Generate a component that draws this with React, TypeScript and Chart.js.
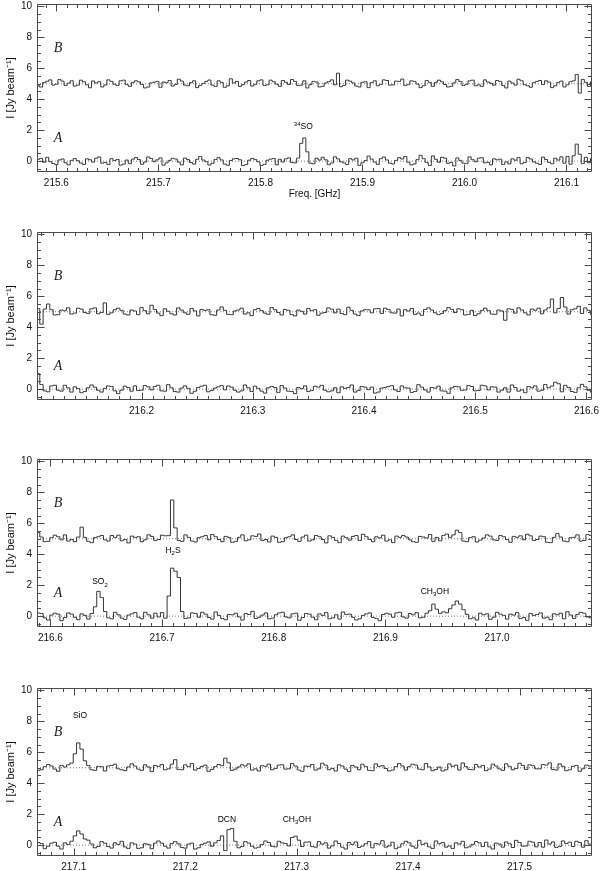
import React, { useEffect, useRef } from "react";
import { Chart, registerables } from "chart.js";
Chart.register(...registerables);

// ---------- data (intensities in units of 0.01 Jy/beam) ----------
const CHANNEL_WIDTH = 0.003; // GHz
const B_OFFSET = 5; // position B spectrum is offset by 5 Jy/beam
const Y_MIN = -0.7;
const Y_MAX = 10.15;
const Y_TICKS = [0, 2, 4, 6, 8, 10];

const P1_RANGE = [215.581, 216.125];
const P1_START = 215.582;
const P1_TICKS = [215.6, 215.7, 215.8, 215.9, 216.0, 216.1];
const P1_A = [
  12, 18, -7, 25, -3, -15, -22, 8, 14, -10,
  -24, 5, 17, 3, -12, -21, 15, 9, -6, 19,
  27, -13, -8, -22, 16, 4, 11, -26, -19, 7,
  -16, 13, 23, 10, -20, -6, 27, 17, -3, 9,
  21, -26, -11, 5, 18, 14, -6, -24, 20, 10,
  -9, -19, 12, 30, 7, -3, -25, -14, 11, 23,
  8, -19, -26, 4, 15, 17, 9, -29, -22, 6,
  18, 10, -4, -28, -21, 6, 13, 17, -24, 12,
  -5, 15, 21, -9, -11, 20, 115, 150, 60, -13,
  -17, 19, 7, 25, 9, -23, -12, 28, 15, -4,
  -11, -22, 16, 8, 19, -27, -10, 4, 33, 13,
  -6, -21, 16, 27, 8, -13, -18, 5, 23, 14,
  30, -7, -24, -18, 10, 38, 16, -9, -28, 34,
  12, -7, 25, 19, -14, -8, -31, 21, 5, -13,
  -16, 28, 10, -4, 19, 22, -11, -7, -24, 15,
  9, 13, -21, -5, -18, 15, 6, 24, -17, -9,
  23, 14, -5, -13, -21, 26, 11, -8, -17, 19,
  7, 28, -13, 30, -20, 35, 110, 45, -16, 25,
  -10, 17, -6,
];
const P1_B = [
  -13, -21, 7, 16, 25, -9, -3, 27, 17, -11,
  4, 19, -15, -9, 23, 12, -7, -26, 18, 5,
  13, -21, -8, 25, 15, -3, -11, 19, 23, -6,
  -17, 9, 19, 12, -5, -27, -21, 6, 10, 15,
  -23, 11, 7, 21, -15, -4, 29, 17, -9, -13,
  7, 19, -25, -11, 2, 15, 24, -9, -17, 19,
  9, -23, -13, 32, 5, 15, -17, -6, 11, 21,
  -15, -4, 19, 25, -11, -7, 23, 13, -3, -17,
  21, 9, -4, 27, 15, -12, -9, 19, -27, -6,
  15, 11, -21, -17, 5, 13, 25, -7, 68, -19,
  -11, 23, 17, 5, -15, -21, 9, 13, -25, 7,
  19, -13, -4, 25, 21, -9, -7, 17, 15, 30,
  -11, -6, 19, 15, -2, -25, -13, 21, 9, -17,
  9, 23, 13, -5, -21, -17, 6, 27, 15, -11,
  -4, 19, 23, -13, -7, -17, 25, 11, 3, -9,
  21, 15, -11, -27, 17, 5, -9, 29, 19, -6,
  -13, -23, 7, 15, 21, -4, 19, 11, -25, -13,
  9, 17, -21, -7, 13, 19, 60, -60, 28, 9,
  -17, 13, 6,
];

const P2_RANGE = [216.106, 216.605];
const P2_START = 216.107;
const P2_TICKS = [216.2, 216.3, 216.4, 216.5, 216.6];
const P2_A = [
  100, 30, -11, -17, 21, 25, -7, -13, 25, 9,
  -19, 15, 4, -23, -15, 9, 27, 13, -7, -19,
  5, 21, 17, -11, -29, -7, 19, 11, -13, 21,
  -9, -7, 23, 15, -5, 17, 25, -11, -13, 29,
  9, -15, -19, 7, 21, 5, -27, -13, 11, 19,
  25, -17, -9, 7, 15, 23, -4, 21, 13, -7,
  -19, -11, 27, 9, -15, 19, 5, -13, -25, 9,
  17, 11, -21, 23, 7, -13, -15, -29, 11, 3,
  21, -15, -9, 19, 13, 25, -7, -17, -11, 9,
  -23, 15, 5, 11, 27, -19, -9, 17, 13, -3,
  13, -25, -19, 7, 11, 17, 23, -5, -15, 21,
  9, 7, -21, -15, 29, 13, -5, -19, 11, 7,
  19, -11, -13, -27, 9, 17, 15, -7, -5, 23,
  17, -11, -9, 25, 21, -5, 15, 13, -19, -7,
  9, -19, 27, 11, -13, -5, -23, 17, 9, 21,
  -13, -7, 30, 9, 20, 45, 35, -17, 25, 11,
  -15, -21, 9, 31, 15, -7, -19, 13, 23, 9,
];
const P2_B = [
  20, -80, 17, 50, 13, -21, -19, 11, 7, 25,
  -15, -9, 23, 17, -5, -11, 19, 25, -13, -5,
  57, -17, -7, 13, 23, 9, -15, -21, 11, 5,
  -19, 27, 7, -13, 42, 15, -9, -25, 19, 3,
  -13, -21, 25, 11, -7, -17, 21, 5, -27, 15,
  9, 13, -19, -23, 11, 31, 9, -17, -19, 5,
  11, 23, -15, -7, -25, 13, 21, 7, -9, -17,
  27, 13, -5, -21, 15, 9, -19, -27, 11, 3,
  -15, 21, 7, 13, -23, -9, -5, 25, 17, -7,
  17, -11, -19, 29, 9, -15, -25, 5, 13, 13,
  -7, 19, 21, -11, 23, 15, -7, -9, 17, -27,
  13, 5, 21, -17, -9, -23, 15, 25, 11, -7,
  -19, -11, 7, 27, 15, -5, 19, 13, -21, -17,
  9, -25, -13, 9, 23, 7, -15, -17, 11, 5,
  -55, 19, 15, -9, 25, 11, -7, -21, 17, 9,
  23, -13, 11, 25, 82, -7, 21, 92, 30, -15,
  13, 19, 35, -11, 25, 9, -17, -23, 11, 7,
];

const P3_RANGE = [216.588, 217.085];
const P3_START = 216.589;
const P3_TICKS = [216.6, 216.7, 216.8, 216.9, 217.0];
const P3_A = [
  21, 17, -11, -25, 7, 19, 13, -29, -9, 21,
  13, -7, -23, 15, 5, -19, 17, 60, 160, 120,
  30, -11, -17, 25, 9, -13, -21, 7, 15, 23,
  -7, -17, 25, 9, -13, 19, -5, 23, -13, 130,
  310, 290, 250, 30, -15, -11, 21, 17, -7, 25,
  13, -9, -19, 27, 5, -15, -23, 11, 9, 19,
  -5, -25, 17, 11, 31, -15, -7, 7, 21, -17,
  -13, 9, 21, 25, -5, -11, 15, 19, -27, -9,
  17, 13, -7, -23, 15, 5, 23, -17, -11, 9,
  -19, 27, 11, 13, -7, -25, -17, 5, 15, 21,
  -9, -15, -29, 11, 19, 13, -7, 21, 25, -5,
  -13, 17, 9, 23, -11, -7, 19, 35, 78, 45,
  18, 28, 22, 48, 72, 98, 78, 42, 12, -17,
  -11, -25, 19, 9, 15, -21, -7, 25, 13, 5,
  -19, 13, 7, 23, -15, -9, -27, 17, 5, 11,
  21, -13, -7, -23, 15, 9, 19, -17, 29, 7,
  -15, 11, 25, 19, -5, -11, 21, -25, -13, 7,
];
const P3_B = [
  40, 11, -19, -17, 7, 23, 13, -7, 25, -15,
  -5, -19, 11, 75, 9, -17, -25, 7, 13, 21,
  -7, -15, 21, 9, 23, -13, -5, -27, 17, 9,
  13, -19, -7, 25, 15, -11, -5, 23, 19, 20,
  250, 70, -11, -17, 25, 9, -15, -21, 7, 13,
  21, -7, 27, 13, -5, -19, 15, 9, -23, -17,
  9, 25, -13, -7, 19, 15, 31, -11, -5, -21,
  17, 9, -23, -19, 7, 13, 25, -5, -17, 11,
  23, -15, -7, 21, 13, -5, -27, 19, 9, -11,
  -25, 17, 7, -9, 15, 21, -11, 29, 13, -5,
  -19, 13, 5, 23, -15, -7, -25, 17, 9, 21,
  11, -7, -19, -23, 15, 11, 5, 27, -17, 9,
  -13, 21, 30, 9, 25, 55, 40, -15, -19, 7,
  13, -21, -9, 5, 25, 17, -7, -11, 21, 13,
  -5, -23, 15, 9, 19, -7, 29, 19, -11, -5,
  17, 13, -23, -25, 9, 33, 11, -15, -19, 7,
  9, 25, -15, -11, 27, 21, -13, -7, 19, 13,
];

const P4_RANGE = [217.067, 217.565];
const P4_START = 217.068;
const P4_TICKS = [217.1, 217.2, 217.3, 217.4, 217.5];
const P4_A = [
  17, 11, -23, -7, 13, 19, -7, -25, 15, 5,
  25, 60, 92, 72, 40, 32, 8, -17, -9, 23,
  13, -9, -19, 15, 5, 25, -11, -21, 15, 7,
  -21, -17, 9, 5, -23, 13, 27, 13, -7, -19,
  11, 23, 9, -15, -19, 7, 13, -25, -17, 5,
  13, 21, -7, 15, 30, 60, -35, 100, 108, 25,
  -17, -9, 23, 13, -7, -19, -13, 5, 27, 17,
  -7, -11, 25, 15, 11, -5, 50, 58, 32, -9,
  19, 21, -9, -13, 23, 7, 15, -19, -5, 27,
  11, -13, -25, 17, 5, 21, -15, -7, 9, 23,
  -17, 11, 7, 29, -13, -5, 19, -23, -13, 9,
  25, 15, -7, -19, 31, 5, 13, -11, -21, 27,
  9, 17, -13, -5, -21, 15, 7, 25, -17, -11,
  5, 23, 15, -9, 19, -11, -25, 13, 7, -13,
  21, 9, -15, 31, 17, -7, -5, 25, 19, -11,
  17, -13, 33, 7, 21, -15, -9, 27, 11, 19,
  -9, 25, 17, -13, 29, 7, 35, -13, 21, 5,
];
const P4_B = [
  -17, -13, 7, 21, 11, -9, -23, 15, 5, 19,
  30, 90, 160, 120, 45, 15, -13, -17, 9, 7,
  -21, 11, 15, 23, -7, -13, -19, 5, 25, 11,
  -9, -17, 19, 5, -25, 15, 9, 21, -13, -7,
  23, 52, -11, -13, 19, 7, 27, -15, -5, 9,
  17, -23, -11, 7, 21, 13, 62, 32, -17, -9,
  5, 19, 11, 25, -15, -7, -21, 13, 9, 23,
  -13, -5, 17, 19, -9, -7, 27, 11, -15, -23,
  11, 9, 21, -15, -7, 29, 17, -13, -5, -21,
  19, 11, -9, -25, 15, 5, -13, 23, 7, -17,
  -19, 25, 9, 13, -5, -21, -15, 7, 27, 11,
  -15, 7, 23, 17, -9, -13, 27, 5, -19, -11,
  5, -21, -13, 25, 9, 17, -15, 31, 7, -11,
  -13, 21, 5, 15, -19, -9, 23, 11, -7, -17,
  25, 9, -13, -5, 29, 15, -11, 19, 13, -7,
  -7, 21, 17, 31, -11, -15, 25, 9, -19, -13,
  9, 15, -23, -7, 17, 11, 27, -5, -13, 9,
];

// line identifications: label, frequency (GHz), intensity level
const P1_LINE_LABELS = ["^{34}SO"];
const P1_LINE_FREQS = [215.842];
const P1_LINE_LEVELS = [2.2];
const P2_LINE_LABELS: string[] = [];
const P2_LINE_FREQS: number[] = [];
const P2_LINE_LEVELS: number[] = [];
const P3_LINE_LABELS = ["SO_{2}", "H_{2}S", "CH_{3}OH"];
const P3_LINE_FREQS = [216.6444, 216.7098, 216.9443];
const P3_LINE_LEVELS = [2.2, 4.25, 1.6];
const P4_LINE_LABELS = ["SiO", "DCN", "CH_{3}OH"];
const P4_LINE_FREQS = [217.1056, 217.2374, 217.3002];
const P4_LINE_LEVELS = [8.35, 1.67, 1.67];

const POS_LABELS = ["B", "A"];
const POS_LEVELS = [7.3, 1.45];

// ---------- styling ----------
const SANS = "'Liberation Sans', Arial, Helvetica, sans-serif";
const LINE_COLOR = "#333333";
const FRAME_COLOR = "#4a4a4a";

const PANELS = [
  { range: P1_RANGE, start: P1_START, ticks: P1_TICKS, a: P1_A, b: P1_B, labels: P1_LINE_LABELS, freqs: P1_LINE_FREQS, levels: P1_LINE_LEVELS, xTitle: true, top: 0 },
  { range: P2_RANGE, start: P2_START, ticks: P2_TICKS, a: P2_A, b: P2_B, labels: P2_LINE_LABELS, freqs: P2_LINE_FREQS, levels: P2_LINE_LEVELS, xTitle: false, top: 228 },
  { range: P3_RANGE, start: P3_START, ticks: P3_TICKS, a: P3_A, b: P3_B, labels: P3_LINE_LABELS, freqs: P3_LINE_FREQS, levels: P3_LINE_LEVELS, xTitle: false, top: 455 },
  { range: P4_RANGE, start: P4_START, ticks: P4_TICKS, a: P4_A, b: P4_B, labels: P4_LINE_LABELS, freqs: P4_LINE_FREQS, levels: P4_LINE_LEVELS, xTitle: false, top: 684 },
];

const CANVAS_H = 204;

function drawRich(ctx: CanvasRenderingContext2D, str: string, cx: number, cy: number, size: number) {
  const parts: { t: string; k: string }[] = [];
  const re = /\^\{([^}]*)\}|_\{([^}]*)\}|([^^_]+)/g;
  let m: RegExpExecArray | null;
  while ((m = re.exec(str))) {
    if (m[1] !== undefined) parts.push({ t: m[1], k: "sup" });
    else if (m[2] !== undefined) parts.push({ t: m[2], k: "sub" });
    else parts.push({ t: m[3], k: "" });
  }
  const big = `${size}px ${SANS}`;
  const small = `${Math.round(size * 0.7)}px ${SANS}`;
  let total = 0;
  const widths = parts.map((p) => {
    ctx.font = p.k ? small : big;
    const w = ctx.measureText(p.t).width;
    total += w;
    return w;
  });
  let x = cx - total / 2;
  ctx.textBaseline = "middle";
  ctx.textAlign = "left";
  parts.forEach((p, i) => {
    ctx.font = p.k ? small : big;
    const dy = p.k === "sup" ? -size * 0.35 : p.k === "sub" ? size * 0.4 : 0;
    ctx.fillText(p.t, x, cy + dy);
    x += widths[i];
  });
}

const framePlugin = {
  id: "frameTicks",
  afterDatasetsDraw(chart: any) {
    const { ctx, chartArea: a, scales } = chart;
    const x = scales.x;
    const y = scales.y;
    ctx.save();
    ctx.strokeStyle = FRAME_COLOR;
    ctx.lineWidth = 1;
    const L = Math.round(a.left) + 0.5;
    const R = Math.round(a.right) - 0.5;
    const T = Math.round(a.top) + 0.5;
    const B = Math.round(a.bottom) - 0.5;
    ctx.beginPath();
    ctx.rect(L, T, R - L, B - T);
    // x ticks: minor every 0.01, major every 0.1
    const k0 = Math.ceil(x.min * 100 - 1e-6);
    const k1 = Math.floor(x.max * 100 + 1e-6);
    for (let k = k0; k <= k1; k++) {
      const px = Math.round(x.getPixelForValue(k / 100)) + 0.5;
      const len = k % 10 === 0 ? 7 : 3.5;
      ctx.moveTo(px, B);
      ctx.lineTo(px, B - len);
      ctx.moveTo(px, T);
      ctx.lineTo(px, T + len);
    }
    // y ticks: minor every 0.5, major every 2
    for (let k = Math.ceil(y.min * 2); k <= Math.floor(y.max * 2); k++) {
      const py = Math.round(y.getPixelForValue(k / 2)) + 0.5;
      const len = k % 4 === 0 ? 7 : 3.5;
      ctx.moveTo(L, py);
      ctx.lineTo(L + len, py);
      ctx.moveTo(R, py);
      ctx.lineTo(R - len, py);
    }
    ctx.stroke();

    // position labels A / B
    ctx.fillStyle = "#222";
    ctx.font = `italic 14px 'Liberation Serif', 'Times New Roman', serif`;
    ctx.textAlign = "center";
    ctx.textBaseline = "middle";
    POS_LABELS.forEach((t, i) => {
      ctx.fillText(t, a.left + 21, y.getPixelForValue(POS_LEVELS[i]));
    });
    // line identifications
    const opts = chart.options.plugins.frameTicks;
    ctx.fillStyle = "#000";
    opts.labels.forEach((t: string, i: number) => {
      drawRich(ctx, t, x.getPixelForValue(opts.freqs[i]), y.getPixelForValue(opts.levels[i]), 8.5);
    });
    ctx.restore();
  },
};

function Panel({ p }: { p: (typeof PANELS)[number] }) {
  const ref = useRef<HTMLCanvasElement>(null);
  useEffect(() => {
    const toPts = (arr: number[], off: number) =>
      arr.map((v, i) => ({ x: p.start + i * CHANNEL_WIDTH, y: v / 100 + off }));
    const chart = new Chart(ref.current as HTMLCanvasElement, {
      type: "line",
      data: {
        datasets: [
          { data: toPts(p.a, 0), stepped: "middle", borderColor: LINE_COLOR, borderWidth: 1, pointRadius: 0, fill: false },
          { data: toPts(p.b, B_OFFSET), stepped: "middle", borderColor: LINE_COLOR, borderWidth: 1, pointRadius: 0, fill: false },
          { data: [{ x: p.range[0], y: 0 }, { x: p.range[1], y: 0 }], borderColor: "#777", borderDash: [1, 2], borderWidth: 1, pointRadius: 0 },
          { data: [{ x: p.range[0], y: B_OFFSET }, { x: p.range[1], y: B_OFFSET }], borderColor: "#777", borderDash: [1, 2], borderWidth: 1, pointRadius: 0 },
        ],
      } as any,
      options: {
        animation: false,
        responsive: false,
        maintainAspectRatio: false,
        devicePixelRatio: 1,
        layout: { padding: { top: 4, right: 8, left: 0, bottom: 0 } },
        plugins: {
          legend: { display: false },
          tooltip: { enabled: false },
          frameTicks: { labels: p.labels, freqs: p.freqs, levels: p.levels },
        } as any,
        scales: {
          x: {
            type: "linear",
            position: "bottom",
            min: p.range[0],
            max: p.range[1],
            grid: { display: false, drawTicks: false },
            border: { display: false },
            ticks: {
              color: "#111",
              font: { family: SANS, size: 10 },
              padding: 5,
              autoSkip: false,
              maxRotation: 0,
              callback: (v: any) => Number(v).toFixed(1),
            },
            title: {
              display: p.xTitle,
              text: "Freq. [GHz]",
              color: "#111",
              font: { family: SANS, size: 10 },
              padding: { top: 0, bottom: 4 },
            },
            afterBuildTicks: (s: any) => {
              s.ticks = p.ticks.map((v) => ({ value: v }));
            },
            afterFit: (s: any) => {
              s.height = 32;
              s.paddingLeft = 0;
              s.paddingRight = 0;
            },
          },
          y: {
            type: "linear",
            min: Y_MIN,
            max: Y_MAX,
            grid: { display: false, drawTicks: false },
            border: { display: false },
            ticks: {
              color: "#111",
              font: { family: SANS, size: 10 },
              padding: 5,
              callback: (v: any) => String(v),
            },
            title: {
              display: true,
              text: "I [Jy beam⁻¹]",
              color: "#111",
              font: { family: SANS, size: 11 },
              padding: { top: 4, bottom: 0 },
            },
            afterBuildTicks: (s: any) => {
              s.ticks = Y_TICKS.map((v) => ({ value: v }));
            },
            afterFit: (s: any) => {
              s.width = 37;
              s.paddingTop = 0;
              s.paddingBottom = 0;
            },
          },
        },
      } as any,
      plugins: [framePlugin as any],
    });
    return () => chart.destroy();
  }, []);
  return (
    <canvas
      ref={ref}
      width={600}
      height={CANVAS_H}
      style={{ position: "absolute", left: 0, top: p.top, width: 600, height: CANVAS_H }}
    />
  );
}

export default function App() {
  return (
    <div
      style={{
        position: "absolute",
        left: 0,
        top: 0,
        width: 600,
        height: 871,
        overflow: "hidden",
        background: "#fff",
      }}
    >
      {PANELS.map((p, i) => (
        <Panel key={i} p={p} />
      ))}
    </div>
  );
}
